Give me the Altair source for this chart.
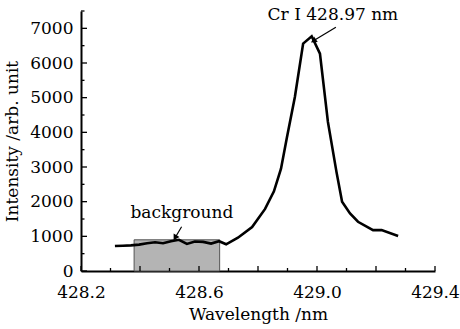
import altair as alt
import pandas as pd

# spectrum data
wavelength = [428.315, 428.342, 428.369, 428.397, 428.424, 428.451, 428.478, 428.505,
              428.532, 428.559, 428.586, 428.614, 428.641, 428.668, 428.692, 428.732,
              428.780, 428.824, 428.854, 428.878, 428.898, 428.925, 428.953, 428.982,
              429.010, 429.037, 429.066, 429.085, 429.112, 429.139, 429.190, 429.219,
              429.275]
intensity = [720, 730, 740, 760, 800, 830, 800, 860,
             900, 780, 850, 840, 790, 860, 770, 960,
             1270, 1790, 2300, 2950, 3850, 5020, 6560, 6770,
             6270, 4300, 2860, 2000, 1660, 1420, 1180, 1180,
             1010]

# background region
bg_x = [428.38]
bg_x2 = [428.67]
bg_y = [0]
bg_y2 = [900]

# axis ticks
x_labels = [428.2, 428.6, 429.0, 429.4]
x_major = [428.2, 428.4, 428.6, 428.8, 429.0, 429.2, 429.4]
x_minor = [428.3, 428.5, 428.7, 428.9, 429.1, 429.3]
y_labels = [0, 1000, 2000, 3000, 4000, 5000, 6000, 7000]
y_minor = [500, 1500, 2500, 3500, 4500, 5500, 6500, 7500]

# annotations
ann_text = ["Cr I 428.97 nm", "background"]
ann_x = [429.054, 428.542]
ann_y = [7375, 1671]
arrow_x = [429.064, 428.541]
arrow_y = [7030, 1276]
arrow_x2 = [428.988, 428.519]
arrow_y2 = [6640, 960]
arrow_angle = [237, 210]

FONT = "DejaVu Serif"
FS = 17

xscale = alt.Scale(domain=[428.2, 429.4], nice=False, zero=False)
yscale = alt.Scale(domain=[0, 7500], nice=False)
common = dict(labelFlush=False, labelOverlap=False, labelFont=FONT, labelFontSize=FS,
              labelColor="black", titleFont=FONT, titleFontSize=FS,
              titleFontWeight="normal", titleColor="black", ticks=False, tickSize=0,
              grid=False, domainColor="black", domainWidth=2)
xaxis = alt.Axis(values=x_labels, format=".1f", title="Wavelength /nm",
                 labelPadding=13, titlePadding=6, **common)
yaxis = alt.Axis(values=y_labels, format="d", title="Intensity /arb. unit",
                 labelPadding=8, titleX=-60, titleY=130, **common)


def X(f):
    return alt.X(f, type="quantitative", scale=xscale, axis=xaxis)


def Y(f):
    return alt.Y(f, type="quantitative", scale=yscale, axis=yaxis)


spec = pd.DataFrame({"x": wavelength, "y": intensity})
bg = pd.DataFrame({"x": bg_x, "x2": bg_x2, "y": bg_y, "y2": bg_y2})
ann = pd.DataFrame({"t": ann_text, "x": ann_x, "y": ann_y})
arr = pd.DataFrame({"x": arrow_x, "y": arrow_y, "x2": arrow_x2, "y2": arrow_y2, "a": arrow_angle})

rect = alt.Chart(bg).mark_rect(fill="#b4b4b4", stroke="#555555", strokeWidth=1).encode(
    x=X("x"), x2="x2:Q", y=Y("y"), y2="y2:Q")

line = alt.Chart(spec).mark_line(color="black", strokeWidth=2.6, strokeJoin="miter").encode(
    x=X("x"), y=Y("y"))

xt_major = alt.Chart(pd.DataFrame({"v": x_major})).mark_rule(color="black", strokeWidth=1.3).encode(
    x=X("v"), y=alt.value(260), y2=alt.value(255))
xt_minor = alt.Chart(pd.DataFrame({"v": x_minor})).mark_rule(color="black", strokeWidth=1.3).encode(
    x=X("v"), y=alt.value(260), y2=alt.value(257))
yt_major = alt.Chart(pd.DataFrame({"v": y_labels})).mark_rule(color="black", strokeWidth=1.3).encode(
    y=Y("v"), x=alt.value(0), x2=alt.value(6))
yt_minor = alt.Chart(pd.DataFrame({"v": y_minor})).mark_rule(color="black", strokeWidth=1.3).encode(
    y=Y("v"), x=alt.value(0), x2=alt.value(3.5))

text = alt.Chart(ann).mark_text(font=FONT, fontSize=FS, color="black", baseline="middle").encode(
    x=X("x"), y=Y("y"), text="t:N")

arrow_line = alt.Chart(arr).mark_rule(color="black", strokeWidth=1.2).encode(
    x=X("x"), y=Y("y"), x2="x2:Q", y2="y2:Q")
arrow_head = alt.Chart(arr).mark_point(shape="triangle-up", filled=True, color="black",
                                       size=45, opacity=1).encode(
    x=X("x2"), y=Y("y2"), angle=alt.Angle("a:Q", scale=None))

chart = alt.layer(rect, line, xt_major, xt_minor, yt_major, yt_minor, text,
                  arrow_line, arrow_head).properties(
    width=354, height=260,
    background="white",
    autosize=alt.AutoSizeParams(type="none"),
    padding={"left": 81, "top": 11, "right": 25, "bottom": 58},
).configure_view(stroke=None).configure_axis(
    labelFont=FONT, labelFontSize=FS, labelColor="black",
    titleFont=FONT, titleFontSize=FS, titleFontWeight="normal", titleColor="black")

chart.save("out.html", embed_options={"renderer": "svg", "actions": False})
